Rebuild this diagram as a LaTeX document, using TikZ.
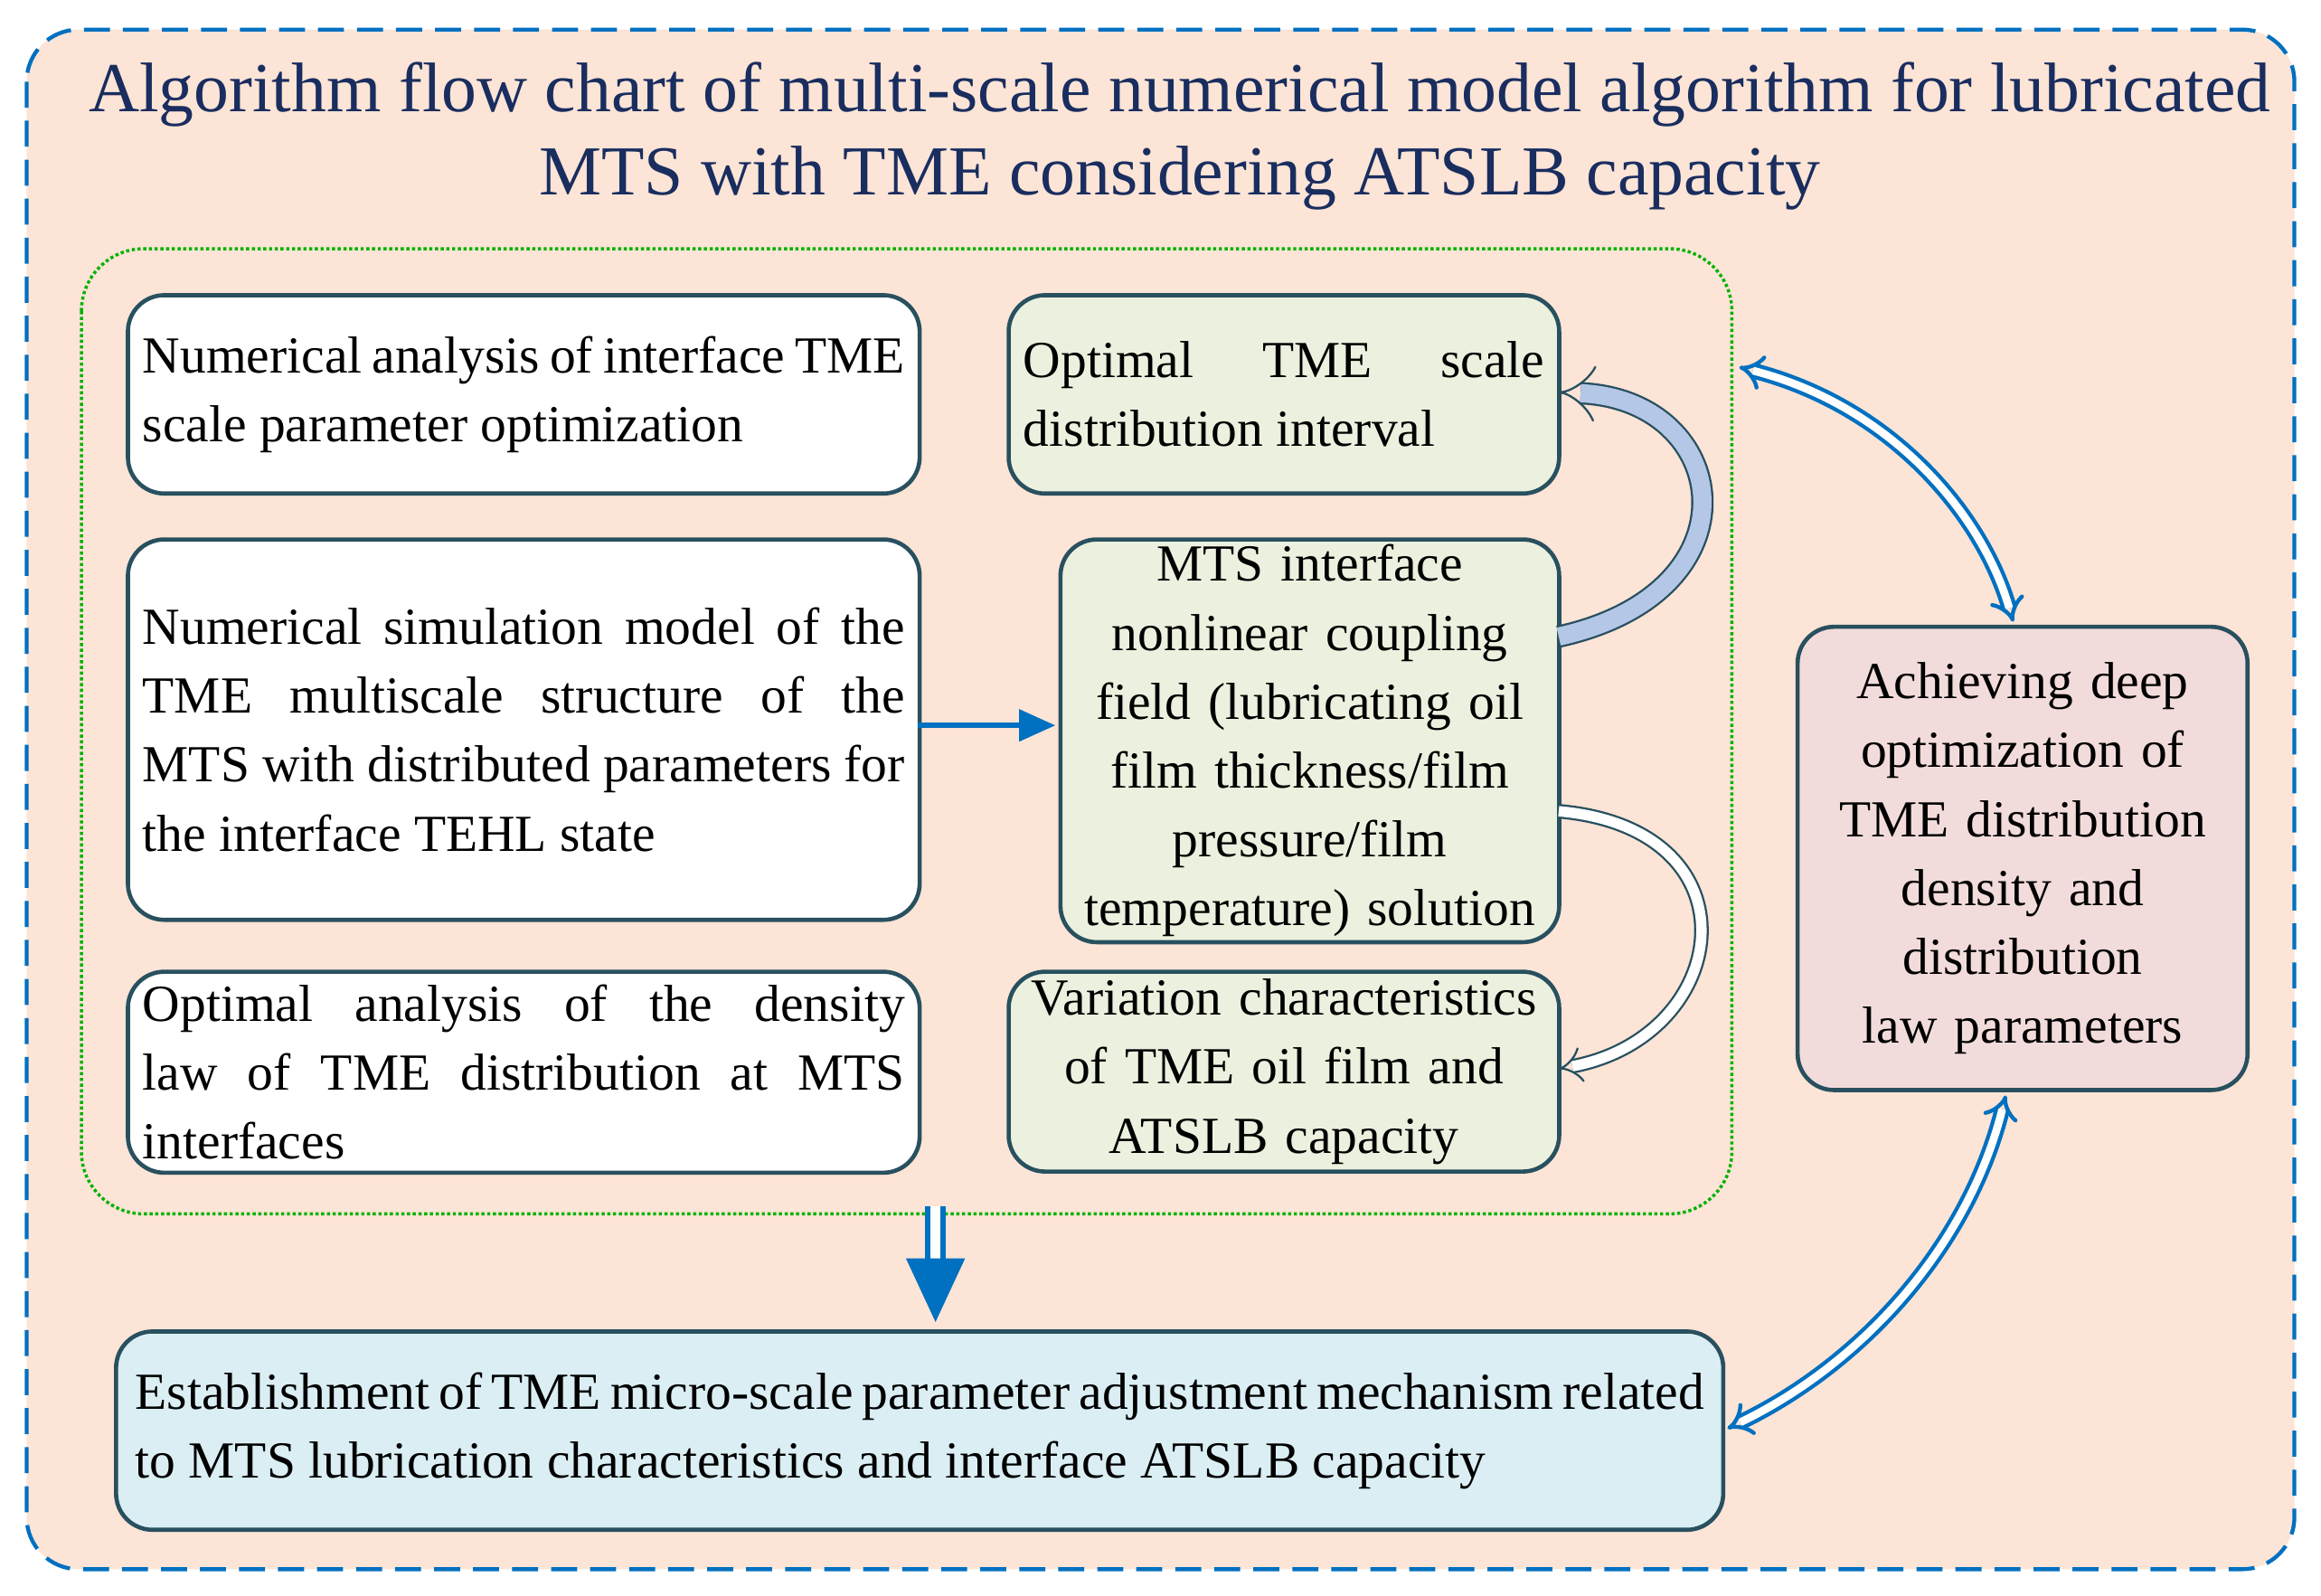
\documentclass[tikz,border=0pt]{standalone}
\usepackage{fontspec}
\setmainfont{Liberation Serif}
\usetikzlibrary{arrows.meta}
\definecolor{peach}{RGB}{252,228,214}
\definecolor{edge}{RGB}{40,80,95}
\definecolor{gfill}{RGB}{235,241,222}
\definecolor{pfill}{RGB}{242,220,219}
\definecolor{bfill}{RGB}{218,238,243}
\definecolor{myblue}{RGB}{0,112,192}
\definecolor{ttl}{RGB}{25,45,95}
\definecolor{lb}{RGB}{180,199,231}
\begin{document}
\hyphenpenalty=10000 \exhyphenpenalty=10000
\begin{tikzpicture}[x=0.02cm,y=-0.02cm,
 box/.style={draw=edge,line width=1.6pt,rounded corners=14pt,anchor=north west,inner sep=5pt,font=\fontsize{20}{26.5}\selectfont},
 dbl/.style={draw=myblue,double=white,double distance=3pt,line width=1.5pt},
]
\useasboundingbox (0,0) rectangle (1568,1078);
\draw[myblue,dashed,line width=1.5pt,fill=peach,rounded corners=20pt,dash pattern=on 10pt off 5pt] (18,20) rectangle (1550,1060);
\node[font=\fontsize{27}{32}\selectfont,text=ttl,align=center] (title) at (797,92) {Algorithm flow chart of multi-scale numerical model algorithm for lubricated\\MTS with TME considering ATSLB capacity};
\draw[green!70!black,densely dotted,line width=1.2pt,rounded corners=24pt] (55,168) rectangle (1170,820);
\node[box,fill=white,minimum width=10.7cm,minimum height=2.68cm,text width=10.3cm,align=justify] (A) at (85,198) {Numerical analysis of interface TME scale parameter optimization};
\node[box,fill=white,minimum width=10.7cm,minimum height=5.14cm,text width=10.3cm,align=justify] (B) at (85,363) {Numerical simulation model of the TME multiscale structure of the MTS with distributed parameters for the interface TEHL state};
\node[box,fill=white,minimum width=10.7cm,minimum height=2.7cm,text width=10.3cm,align=justify] (C) at (85,655) {Optimal analysis of the density law of TME distribution at MTS interfaces};
\node[box,fill=gfill,minimum width=7.44cm,minimum height=2.68cm,text width=7.04cm,align=justify] (D) at (680,198) {Optimal TME scale distribution interval};
\node[box,fill=gfill,minimum width=6.74cm,minimum height=5.14cm,text width=6.5cm,align=center,inner sep=2pt] (E) at (715,363) {MTS interface nonlinear coupling field (lubricating oil film thickness/film pressure/film temperature) solution};
\node[box,fill=gfill,minimum width=7.44cm,minimum height=2.7cm,text width=7.3cm,align=center,inner sep=2pt] (F) at (680,655) {Variation characteristics of TME oil film and ATSLB capacity};
\node[box,fill=pfill,minimum width=6.08cm,minimum height=6.26cm,text width=5.9cm,align=center,inner sep=2pt] (G) at (1213,422) {Achieving deep optimization of TME distribution density and distribution law parameters};
\node[box,fill=bfill,minimum width=21.72cm,minimum height=2.68cm,text width=21.2cm,align=justify] (H) at (77,898) {Establishment of TME micro-scale parameter adjustment mechanism related to MTS lubrication characteristics and interface ATSLB capacity};
\coordinate (Bo) at (620,490); \coordinate (Ei) at (713,490);
\draw[myblue,line width=2pt,-{Triangle[length=14pt,width=12pt]}] (Bo) -- (Ei);
\coordinate (E1) at (1053,430); \coordinate (D1) at (1053,265);
\draw[draw=edge,double=lb,double distance=7pt,line width=0.8pt,-{Implies[length=8pt]}] (E1) .. controls (1190,400) and (1170,270) .. (D1);
\coordinate (E2) at (1053,548); \coordinate (F1) at (1053,722);
\draw[draw=edge,double=white,double distance=4pt,line width=0.8pt,-{Implies[length=8pt]}] (E2) .. controls (1190,560) and (1170,700) .. (F1);
\coordinate (fr) at (1175,248); \coordinate (Gt) at (1360,420);
\draw[dbl,{Implies[length=7pt]}-{Implies[length=7pt]}] (fr) .. controls (1280,275) and (1340,350) .. (Gt);
\coordinate (Gb) at (1355,740); \coordinate (Hr) at (1167,965);
\draw[dbl,{Implies[length=7pt]}-{Implies[length=7pt]}] (Gb) .. controls (1330,840) and (1260,920) .. (Hr);
\coordinate (fb) at (632,815); \coordinate (Ht) at (632,893);
\draw[myblue,double=white,double distance=4pt,line width=2pt] (fb) -- (632,850);
\fill[myblue] (612,850) -- (652,850) -- (Ht) -- cycle;
\end{tikzpicture}
\end{document}
